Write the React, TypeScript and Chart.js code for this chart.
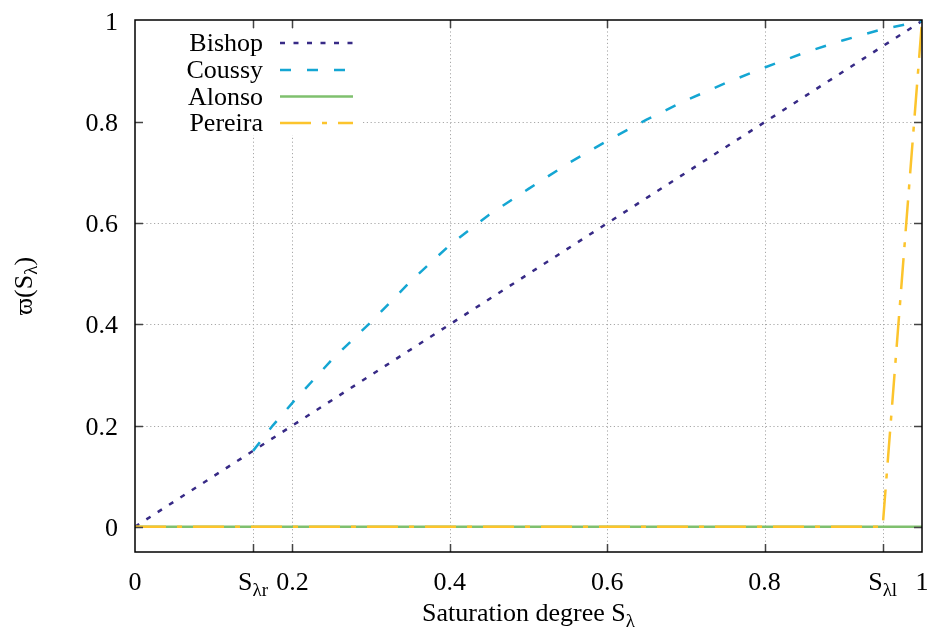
import React, { useEffect, useRef } from "react";
import { Chart, registerables } from "chart.js";

Chart.register(...registerables);

// ---- data ----
const xTicks = [0, 0.15, 0.2, 0.4, 0.6, 0.8, 0.95, 1];
const xTickMain = ["0", "S", "0.2", "0.4", "0.6", "0.8", "S", "1"];
const xTickSub = ["", "λr", "", "", "", "", "λl", ""];
const yTicks = [0, 0.2, 0.4, 0.6, 0.8, 1];
const yTickLabels = ["0", "0.2", "0.4", "0.6", "0.8", "1"];

const bishopX = [0, 1];
const bishopY = [0, 1];

const coussyX = [0.15, 0.175, 0.2, 0.25, 0.3, 0.35, 0.4, 0.45, 0.5, 0.55, 0.6, 0.65, 0.7, 0.75, 0.8, 0.85, 0.9, 0.95, 1.0];
const coussyY = [0.15, 0.2, 0.245, 0.33, 0.405, 0.485, 0.557, 0.617, 0.668, 0.718, 0.763, 0.805, 0.843, 0.877, 0.908, 0.937, 0.962, 0.984, 1.0];

const alonsoX = [0, 1];
const alonsoY = [0, 0];

const pereiraX = [0, 0.95, 1];
const pereiraY = [0, 0, 1];

const seriesNames = ["Bishop", "Coussy", "Alonso", "Pereira"];
const seriesColors = ["#372a86", "#14a6d3", "#7fc06e", "#fcc42c"];
const seriesDashes: number[][] = [[5, 8.5], [11, 16], [], [31, 11, 5, 11]];

const FONT = "'Liberation Serif', 'Times New Roman', serif";
const FS = 26;
const SFS = 19;

function pts(xs: number[], ys: number[]) {
  return xs.map((x, i) => ({ x, y: ys[i] }));
}

function drawSubText(
  ctx: CanvasRenderingContext2D,
  main: string,
  sub: string,
  x: number,
  y: number,
  size: number,
  subSize: number,
  subShift: number
) {
  ctx.font = `${size}px ${FONT}`;
  const wm = ctx.measureText(main).width;
  ctx.font = `${subSize}px ${FONT}`;
  const ws = sub ? ctx.measureText(sub).width : 0;
  const start = x - (wm + ws) / 2;
  ctx.textAlign = "left";
  ctx.textBaseline = "alphabetic";
  ctx.font = `${size}px ${FONT}`;
  ctx.fillText(main, start, y);
  if (sub) {
    ctx.font = `${subSize}px ${FONT}`;
    ctx.fillText(sub, start + wm, y + subShift);
  }
}

const decorPlugin = {
  id: "decor",
  beforeDatasetsDraw(chart: any) {
    const ctx: CanvasRenderingContext2D = chart.ctx;
    const { left, right, top, bottom } = chart.chartArea;
    const xs = chart.scales.x;
    const ys = chart.scales.y;
    ctx.save();
    ctx.strokeStyle = "#a8a8a8";
    ctx.lineWidth = 1;
    ctx.setLineDash([1.2, 2.6]);
    xTicks.forEach((t) => {
      if (t <= 0 || t >= 1) return;
      const px = Math.round(xs.getPixelForValue(t)) + 0.5;
      ctx.beginPath();
      ctx.moveTo(px, top);
      ctx.lineTo(px, bottom);
      ctx.stroke();
    });
    yTicks.forEach((t) => {
      if (t >= 1) return;
      const py = Math.round(ys.getPixelForValue(t)) + 0.5;
      ctx.beginPath();
      ctx.moveTo(left, py);
      ctx.lineTo(right, py);
      ctx.stroke();
    });
    ctx.restore();
  },
  afterDatasetsDraw(chart: any) {
    const ctx: CanvasRenderingContext2D = chart.ctx;
    const { left, right, top, bottom } = chart.chartArea;
    const xs = chart.scales.x;
    const ys = chart.scales.y;
    ctx.save();

    // legend box (opaque)
    ctx.fillStyle = "#ffffff";
    ctx.fillRect(143, 29, 220, 106);
    const rowsY = [43, 70, 96.5, 123];
    seriesNames.forEach((name, i) => {
      ctx.fillStyle = "#000";
      ctx.font = `${FS}px ${FONT}`;
      ctx.textAlign = "right";
      ctx.textBaseline = "alphabetic";
      ctx.fillText(name, 263, rowsY[i] + 8);
      ctx.strokeStyle = seriesColors[i];
      ctx.lineWidth = 2.5;
      ctx.lineCap = "butt";
      ctx.setLineDash(seriesDashes[i]);
      ctx.beginPath();
      ctx.moveTo(280, rowsY[i]);
      ctx.lineTo(353, rowsY[i]);
      ctx.stroke();
    });
    ctx.setLineDash([]);

    // tick marks (inward, mirrored)
    ctx.strokeStyle = "#444";
    ctx.lineWidth = 1.5;
    const tl = 8;
    xTicks.forEach((t) => {
      if (t <= 0 || t >= 1) return;
      const px = Math.round(xs.getPixelForValue(t)) + 0.5;
      ctx.beginPath();
      ctx.moveTo(px, bottom);
      ctx.lineTo(px, bottom - tl);
      ctx.moveTo(px, top);
      ctx.lineTo(px, top + tl);
      ctx.stroke();
    });
    yTicks.forEach((t) => {
      if (t >= 1) return;
      const py = Math.round(ys.getPixelForValue(t)) + 0.5;
      ctx.beginPath();
      ctx.moveTo(left, py);
      ctx.lineTo(left + tl, py);
      ctx.moveTo(right, py);
      ctx.lineTo(right - tl, py);
      ctx.stroke();
    });

    // frame
    ctx.strokeStyle = "#000";
    ctx.lineWidth = 1.5;
    ctx.strokeRect(left, top, right - left, bottom - top);

    // y tick labels
    ctx.fillStyle = "#000";
    ctx.font = `${FS}px ${FONT}`;
    ctx.textAlign = "right";
    ctx.textBaseline = "alphabetic";
    yTicks.forEach((t, i) => {
      ctx.fillText(yTickLabels[i], 118, ys.getPixelForValue(t) + 9);
    });

    // x tick labels
    xTicks.forEach((t, i) => {
      const px = xs.getPixelForValue(t);
      drawSubText(ctx, xTickMain[i], xTickSub[i], px, 590, FS, SFS, 6);
    });

    // x title
    drawSubText(ctx, "Saturation degree S", "λ", (left + right) / 2, 621, FS, SFS, 6);

    // y title
    ctx.save();
    ctx.translate(32, 286);
    ctx.rotate(-Math.PI / 2);
    ctx.font = `${FS}px ${FONT}`;
    const a = "ϖ(S";
    const b = "λ";
    const c = ")";
    const wa = ctx.measureText(a).width;
    const wc = ctx.measureText(c).width;
    ctx.font = `${SFS}px ${FONT}`;
    const wb = ctx.measureText(b).width;
    const start = -(wa + wb + wc) / 2;
    ctx.textAlign = "left";
    ctx.textBaseline = "alphabetic";
    ctx.font = `${FS}px ${FONT}`;
    ctx.fillText(a, start, 0);
    ctx.font = `${SFS}px ${FONT}`;
    ctx.fillText(b, start + wa, 5);
    ctx.font = `${FS}px ${FONT}`;
    ctx.fillText(c, start + wa + wb, 0);
    ctx.restore();

    ctx.restore();
  },
};

export default function App() {
  const ref = useRef<HTMLCanvasElement>(null);
  useEffect(() => {
    if (!ref.current) return;
    const mk = (i: number, xs: number[], ys: number[], order: number) => ({
      label: seriesNames[i],
      data: pts(xs, ys),
      borderColor: seriesColors[i],
      backgroundColor: seriesColors[i],
      borderWidth: 2.5,
      borderDash: seriesDashes[i],
      borderCapStyle: "butt" as const,
      pointRadius: 0,
      fill: false,
      tension: 0,
      order,
    });
    const chart = new Chart(ref.current, {
      type: "line",
      data: {
        datasets: [
          mk(0, bishopX, bishopY, 3),
          mk(1, coussyX, coussyY, 2),
          mk(2, alonsoX, alonsoY, 1),
          mk(3, pereiraX, pereiraY, 0),
        ],
      },
      options: {
        responsive: false,
        animation: false,
        events: [],
        layout: { padding: { left: 135, right: 8, top: 20, bottom: 81 } },
        plugins: { legend: { display: false }, tooltip: { enabled: false } },
        scales: {
          x: { type: "linear", min: 0, max: 1, display: false },
          y: { type: "linear", min: -0.05, max: 1.002, display: false },
        },
      },
      plugins: [decorPlugin],
    });
    return () => chart.destroy();
  }, []);
  return (
    <div style={{ position: "absolute", left: 0, top: 0, width: 930, height: 633, background: "#fff" }}>
      <canvas ref={ref} width={930} height={633} style={{ display: "block" }} />
    </div>
  );
}
